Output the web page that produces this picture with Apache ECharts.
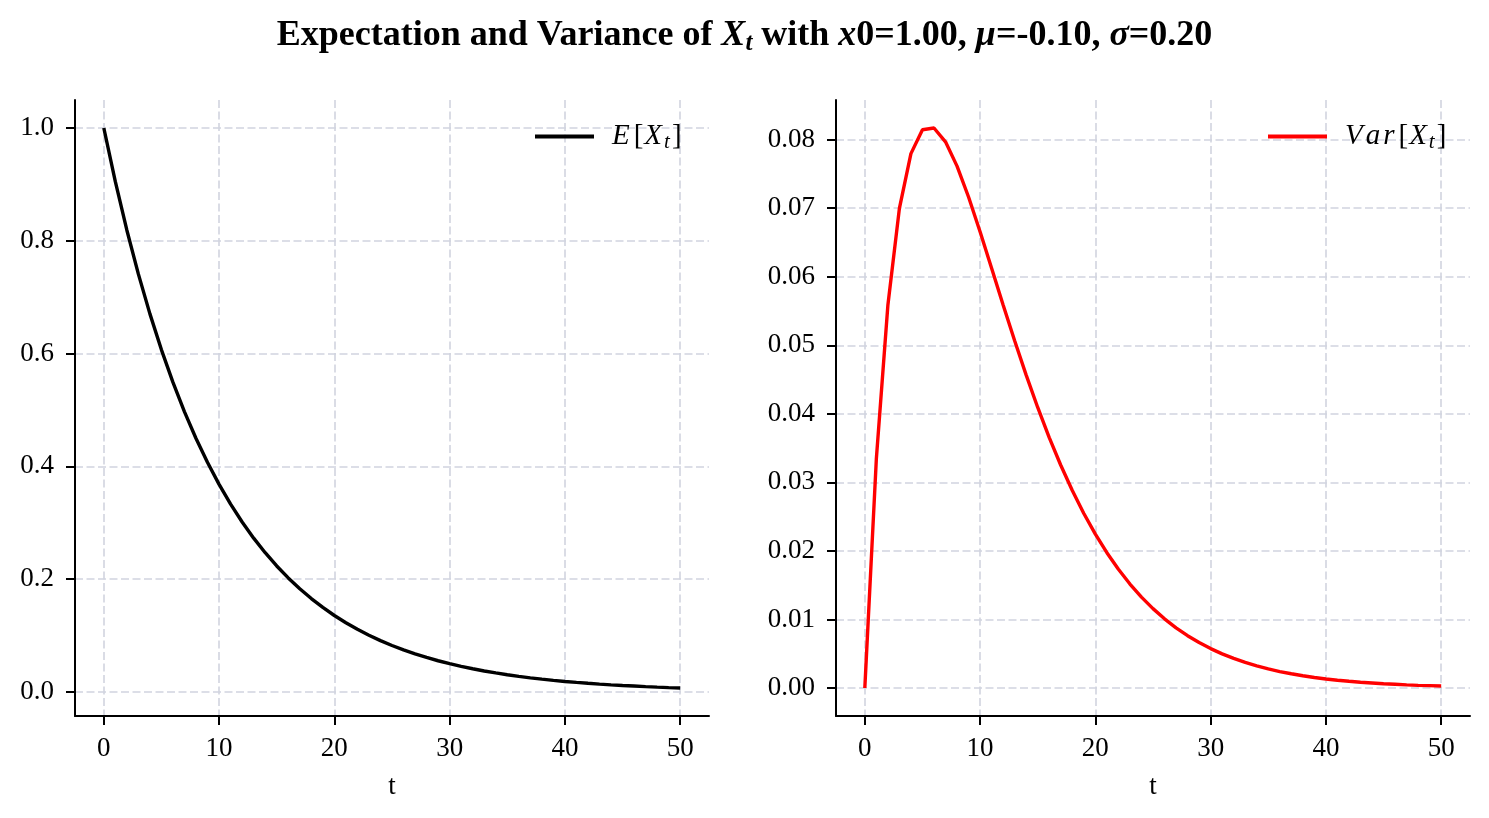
<!DOCTYPE html>
<html>
<head>
<meta charset="utf-8">
<script src="https://cdn.jsdelivr.net/npm/echarts@6/dist/echarts.min.js"></script>
<style>
html,body{margin:0;padding:0;background:#fff;}
#chart{width:1489px;height:818px;}
</style>
</head>
<body>
<div id="chart"></div>
<script>
// ---- data ----
const tValues = [0,1,2,3,4,5,6,7,8,9,10,11,12,13,14,15,16,17,18,19,20,21,22,23,24,25,26,27,28,29,30,31,32,33,34,35,36,37,38,39,40,41,42,43,44,45,46,47,48,49,50];
const expectationValues = [1.0,0.9048,0.8187,0.7408,0.6703,0.6065,0.5488,0.4966,0.4493,0.4066,0.3679,0.3329,0.3012,0.2725,0.2466,0.2231,0.2019,0.1827,0.1653,0.1496,0.1353,0.1225,0.1108,0.1003,0.0907,0.0821,0.0743,0.0672,0.0608,0.0550,0.0498,0.0450,0.0408,0.0369,0.0334,0.0302,0.0273,0.0247,0.0224,0.0202,0.0183,0.0166,0.0150,0.0136,0.0123,0.0111,0.0101,0.0091,0.0082,0.0074,0.0067];
const varianceValues = [0.0,0.03341,0.05583,0.06997,0.07796,0.08145,0.08170,0.07968,0.07614,0.07163,0.06656,0.06124,0.05589,0.05066,0.04565,0.04093,0.03654,0.03250,0.02881,0.02546,0.02244,0.01974,0.01732,0.01517,0.01326,0.01158,0.01009,0.00878,0.00763,0.00663,0.00575,0.00498,0.00432,0.00373,0.00323,0.00279,0.00240,0.00208,0.00179,0.00154,0.00132,0.00114,0.00098,0.00084,0.00073,0.00062,0.00054,0.00046,0.00039,0.00034,0.00029];
const xTicks = [0,10,20,30,40,50];
const yTicksLeft = [0.0,0.2,0.4,0.6,0.8,1.0];
const yTicksRight = [0.00,0.01,0.02,0.03,0.04,0.05,0.06,0.07,0.08];

const FONT = '"Liberation Serif", "DejaVu Serif", serif';
const FS = 27;
const LFS = 29;
const gridColor = '#d1d4df';

function pairs(xs, ys){ return xs.map((x,i)=>[x, ys[i]]); }

function xAxisCfg(idx){
  return {
    type:'value', gridIndex: idx, min:-2.5, max:52.5,
    name:'t', nameLocation:'middle', nameGap:57,
    nameTextStyle:{fontFamily:FONT, fontSize:FS, color:'#000'},
    axisLine:{show:true, onZero:false, lineStyle:{color:'#000', width:2}},
    axisTick:{show:true, inside:false, length:9, lineStyle:{color:'#000', width:2}, customValues:xTicks},
    axisLabel:{show:true, margin:19, fontFamily:FONT, fontSize:FS, color:'#000', customValues:xTicks, formatter:v=>String(Math.round(v))},
    splitLine:{show:true, lineStyle:{color:gridColor, width:1.6, type:[8,3.5]}}
  };
}
function yAxisCfg(idx, min, max, ticks, dec){
  return {
    type:'value', gridIndex: idx, min:min, max:max,
    axisLine:{show:true, onZero:false, lineStyle:{color:'#000', width:2}},
    axisTick:{show:true, inside:false, length:9, lineStyle:{color:'#000', width:2}, customValues:ticks},
    axisLabel:{show:true, margin:21, fontFamily:FONT, fontSize:FS, color:'#000', customValues:ticks, formatter:v=>Number(v).toFixed(dec)},
    splitLine:{show:true, lineStyle:{color:gridColor, width:1.6, type:[8,3.5]}}
  };
}

const richMath = {
  n:{fontFamily:FONT, fontSize:LFS, color:'#000', padding:[0,1,0,1]},
  i:{fontFamily:FONT, fontSize:LFS, fontStyle:'italic', color:'#000', padding:[0,2,0,0]},
  s:{fontFamily:FONT, fontSize:21, fontStyle:'italic', color:'#000', padding:[12,1,0,0]},
  p:{fontFamily:FONT, fontSize:LFS, fontStyle:'italic', color:'#000', padding:[0,3,0,13]},
  v:{fontFamily:FONT, fontSize:LFS, fontStyle:'italic', color:'#000', padding:[0,3,0,0]}
};

const chart = echarts.init(document.getElementById('chart'), null, {renderer:'canvas'});
chart.setOption({
  backgroundColor:'#fff',
  animation:false,
  title:{
    left:'center', top:11,
    text:'{b|Expectation and Variance of }{i|X}{s|t}{b| with }{i|x}{r|0}{b|=1.00, }{i|μ}{b|=-0.10, }{i|σ}{b|=0.20}',
    textStyle:{
      fontFamily:FONT, fontSize:36, color:'#000',
      rich:{
        b:{fontFamily:FONT, fontSize:36, fontWeight:'bold', color:'#000'},
        i:{fontFamily:FONT, fontSize:36, fontStyle:'italic', color:'#000'},
        r:{fontFamily:FONT, fontSize:36, color:'#000'},
        s:{fontFamily:FONT, fontSize:25, fontStyle:'italic', color:'#000', padding:[15,0,0,0]}
      }
    }
  },
  grid:[
    {left:75, top:100, width:634, height:616, containLabel:false},
    {left:836, top:100, width:634, height:616, containLabel:false}
  ],
  xAxis:[xAxisCfg(0), xAxisCfg(1)],
  yAxis:[
    yAxisCfg(0, -0.0430, 1.0497, yTicksLeft, 1),
    yAxisCfg(1, -0.004085, 0.085785, yTicksRight, 2)
  ],
  legend:[
    {data:['E'], left:530, top:117, icon:'rect', itemWidth:59, itemHeight:4,
     formatter:()=>'{p|E}{n|[}{i|X}{s|t}{n|]}',
     textStyle:{fontFamily:FONT, fontSize:LFS, color:'#000', rich:richMath}},
    {data:['V'], left:1263, top:117, icon:'rect', itemWidth:59, itemHeight:4,
     formatter:()=>'{p|V}{v|a}{v|r}{n|[}{i|X}{s|t}{n|]}',
     textStyle:{fontFamily:FONT, fontSize:LFS, color:'#000', rich:richMath}}
  ],
  series:[
    {name:'E', type:'line', xAxisIndex:0, yAxisIndex:0, data:pairs(tValues, expectationValues),
     showSymbol:false, symbol:'none', color:'#000', lineStyle:{color:'#000', width:3.4}},
    {name:'V', type:'line', xAxisIndex:1, yAxisIndex:1, data:pairs(tValues, varianceValues),
     showSymbol:false, symbol:'none', color:'#ff0000', lineStyle:{color:'#ff0000', width:3.4}}
  ]
});
</script>
</body>
</html>
